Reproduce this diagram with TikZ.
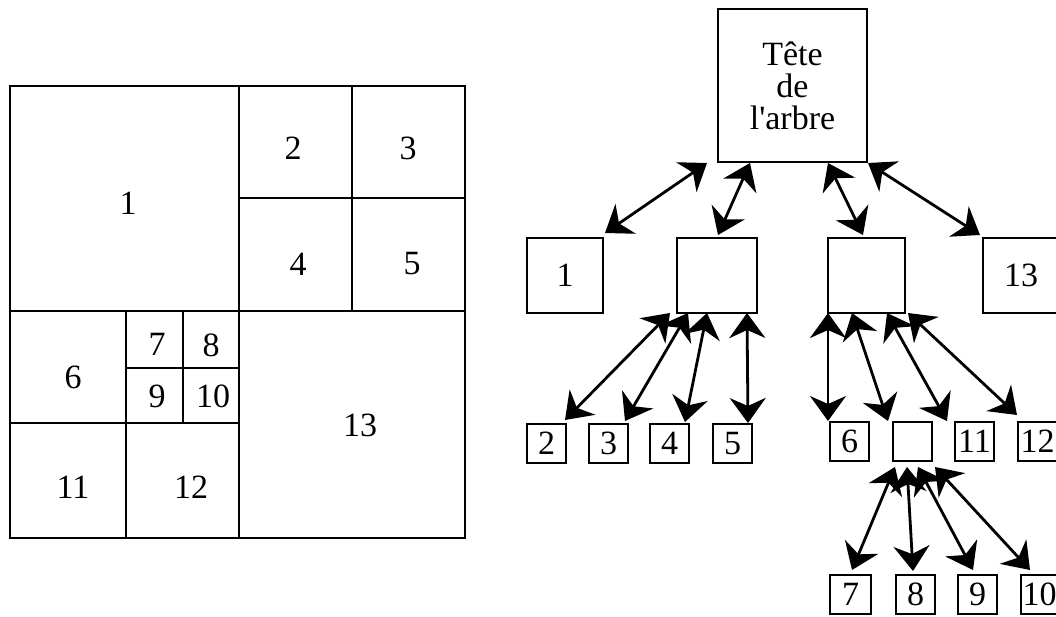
\documentclass[tikz,border=0pt]{standalone}
\usepackage{fontspec}
\setmainfont{Liberation Serif}[Ligatures=TeXOff]
\usetikzlibrary{arrows.meta,calc}
\begin{document}
\begin{tikzpicture}[x=1pt,y=-1pt,
  txt/.style={inner sep=0pt,font=\fontsize{34}{32}\selectfont},
  box/.style={draw,line width=2pt,inner sep=0pt,outer sep=0pt,anchor=north west,font=\fontsize{34}{32}\selectfont},
  sbox/.style={box,minimum width=39,minimum height=39},
  mbox/.style={box,minimum height=75},
  grid/.style={line width=2.3pt},
  arr/.style={line width=2.8pt,arrows={Stealth[length=25pt,width=36pt,inset=8pt]-Stealth[length=25pt,width=36pt,inset=8pt]}}]
\useasboundingbox (0,0) rectangle (1056,616);
\fill[white] (0,0) rectangle (1056,616);

% ---------- quadtree partition ----------
\draw[grid] (10,86) rectangle (465,538);
\draw[grid] (239,86) -- (239,538);
\draw[grid] (10,311) -- (465,311);
\draw[grid] (352,86) -- (352,311);
\draw[grid] (239,198) -- (465,198);
\draw[grid] (126,311) -- (126,538);
\draw[grid] (10,423) -- (239,423);
\draw[grid] (183,311) -- (183,423);
\draw[grid] (126,368) -- (239,368);
\node[txt] (q1) at (128,203) {1};
\node[txt] (q2) at (293,148) {2};
\node[txt] (q3) at (408,148) {3};
\node[txt] (q4) at (298,264) {4};
\node[txt] (q5) at (412,264) {5};
\node[txt] (q6) at (73,377) {6};
\node[txt] (q7) at (157,344) {7};
\node[txt] (q8) at (211,345) {8};
\node[txt] (q9) at (157,396) {9};
\node[txt] (q10) at (213,396) {10};
\node[txt] (q11) at (73,487) {11};
\node[txt] (q12) at (191,487) {12};
\node[txt] (q13) at (360,425) {13};

% ---------- tree ----------
\node[box,minimum width=149,minimum height=153,align=center] (head) at (718,9) {T\^ete\\de\\l'arbre};
\node[mbox,minimum width=76] (n1) at (527,238) {1};
\node[mbox,minimum width=80] (nA) at (677,238) {};
\node[mbox,minimum width=77] (nB) at (828,238) {};
\node[mbox,minimum width=76] (n13) at (983,238) {13};

\node[sbox] (n2) at (527,424) {2};
\node[sbox] (n3) at (589,424) {3};
\node[sbox] (n4) at (650,424) {4};
\node[sbox] (n5) at (713,424) {5};
\node[sbox] (n6) at (830,422) {6};
\node[sbox] (nC) at (893,422) {};
\node[sbox] (n11) at (955,422) {11};
\node[sbox] (n12) at (1018,422) {12};

\node[sbox,minimum width=41] (n7) at (830,575) {7};
\node[sbox] (n8) at (896,575) {8};
\node[sbox] (n9) at (958,575) {9};
\node[sbox,minimum width=37] (n10) at (1021,575) {10};

% level 0 -> 1
\draw[arr] ($(head.south west)+(-11,1)$) -- ($(n1.north east)+(2,-5)$);
\draw[arr] ($(head.south west)+(32,1)$) -- ($(nA.north west)+(41,-3)$);
\draw[arr] ($(head.south west)+(110,1)$) -- ($(nB.north west)+(35,-3)$);
\draw[arr] ($(head.south east)+(1,1)$) -- ($(n13.north west)+(-3,-3)$);
% level 1 -> 2
\draw[arr] ($(nA.south west)+(-7,0)$) -- ($(n2.north east)+(-1,-4)$);
\draw[arr] ($(nA.south west)+(11,0)$) -- ($(n3.north east)+(-3,-3)$);
\draw[arr] ($(nA.south west)+(30,0)$) -- ($(n4.north east)+(-4,-2)$);
\draw[arr] ($(nA.south west)+(70,0)$) -- ($(n5.north east)+(-4,-1)$);
\draw[arr] ($(nB.south west)+(0,0)$) -- ($(n6.north west)+(-2,-1)$);
\draw[arr] ($(nB.south west)+(24,0)$) -- ($(nC.north west)+(-5,-1)$);
\draw[arr] ($(nB.south west)+(59,0)$) -- ($(n11.north west)+(-8,-1)$);
\draw[arr] ($(nB.south west)+(80,0)$) -- ($(n12.north west)+(-1,-7)$);
% level 2 -> 3
\draw[arr] ($(nC.south west)+(2,6)$) -- ($(n7.north west)+(22,-5)$);
\draw[arr] ($(nC.south west)+(14,6)$) -- ($(n8.north west)+(17,-4)$);
\draw[arr] ($(nC.south west)+(25,6)$) -- ($(n9.north west)+(15,-5)$);
\draw[arr] ($(nC.south west)+(42,6)$) -- ($(n10.north west)+(9,-5)$);
\end{tikzpicture}
\end{document}
